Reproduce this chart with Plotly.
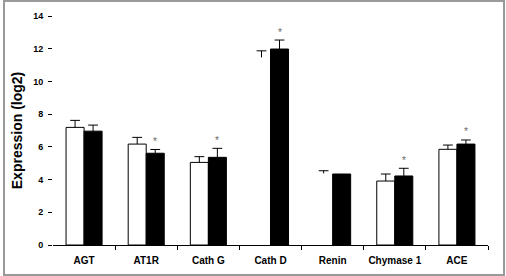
import plotly.graph_objects as go

categories = ["AGT", "AT1R", "Cath G", "Cath D", "Renin", "Chymase 1", "ACE"]
control = [7.19, 6.17, 5.05, 11.47, 4.38, 3.91, 5.85]
control_err = [0.43, 0.41, 0.35, 0.40, 0.16, 0.43, 0.26]
treated = [6.96, 5.61, 5.36, 11.98, 4.34, 4.22, 6.17]
treated_err = [0.37, 0.23, 0.55, 0.55, 0.0, 0.47, 0.25]
significant = [False, True, True, True, False, True, True]
control_outline = [1, 1, 1, 0, 0, 1, 1]
y_ticks = [0, 2, 4, 6, 8, 10, 12, 14]

FONT = "Arial, Liberation Sans, sans-serif"
BW = 0.29
idx = list(range(len(categories)))
xc = [i - BW / 2 for i in idx]
xt = [i + BW / 2 for i in idx]

fig = go.Figure()
fig.add_trace(go.Bar(
    x=xc, y=control, width=BW, name="Control",
    marker=dict(color="white", line=dict(color="black", width=control_outline)),
    error_y=dict(type="data", array=control_err, symmetric=False, arrayminus=[0] * 7,
                 color="black", thickness=1, width=0),
))
fig.add_trace(go.Bar(
    x=xt, y=treated, width=BW, name="Treated",
    marker=dict(color="black", line=dict(color="black", width=1)),
    error_y=dict(type="data", array=treated_err, symmetric=False, arrayminus=[0] * 7,
                 color="black", thickness=1, width=0),
))
# error-bar caps
for xs, vals, errs in ((xc, control, control_err), (xt, treated, treated_err)):
    fig.add_trace(go.Scatter(
        x=[x for x, e in zip(xs, errs) if e > 0],
        y=[v + e for v, e in zip(vals, errs) if e > 0],
        mode="markers", hoverinfo="skip",
        marker=dict(symbol="line-ew", size=7, line=dict(color="black", width=1)),
    ))

for x, v, e, s in zip(xt, treated, treated_err, significant):
    if s:
        fig.add_annotation(x=x, y=v + e, text="*", showarrow=False, yshift=8,
                           font=dict(family=FONT, size=10, color="#666666"))

# outer frame
L, R, T, B = 53, 18, 16, 31
W, H = 506, 276
pw, ph = W - L - R, H - T - B
def px(x):
    return (x - L) / pw
def py(y):
    return (H - B - y) / ph
fig.add_shape(type="rect", xref="paper", yref="paper",
              x0=px(4), x1=px(504), y0=py(275), y1=py(1),
              line=dict(color="#9a9a9a", width=2), fillcolor="rgba(0,0,0,0)", layer="below")

fig.update_layout(
    width=W, height=H,
    margin=dict(l=L, r=R, t=T, b=B),
    paper_bgcolor="white", plot_bgcolor="white",
    barmode="overlay",
    showlegend=False,
    font=dict(family=FONT, color="black"),
)
fig.update_xaxes(
    range=[-0.5, len(categories) - 0.5],
    tickvals=idx, ticktext=categories, ticks="",
    minor=dict(tickvals=[i + 0.5 for i in idx], ticks="outside", ticklen=4,
               tickcolor="black", showgrid=False),
    showline=True, linecolor="black", linewidth=1,
    tickangle=0, automargin=False, ticklabelstandoff=6,
    tickfont=dict(family=FONT, size=10, weight="bold"),
    showgrid=False, zeroline=False,
)
fig.update_yaxes(
    range=[0, 14], tickvals=y_ticks, showline=False, showgrid=False, zeroline=False,
    ticks="outside", ticklen=4, tickcolor="black", ticklabelstandoff=3,
    automargin=False,
    tickfont=dict(family=FONT, size=9, weight="bold"),
    title=dict(text="Expression (log2)", font=dict(family=FONT, size=14, weight="bold"), standoff=7),
)

fig.write_html("out.html")
